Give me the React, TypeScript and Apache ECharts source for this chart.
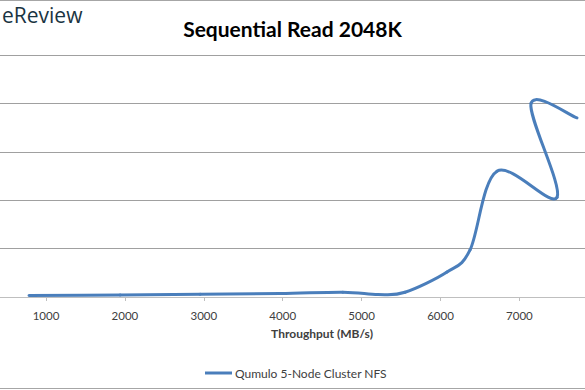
import React, { useEffect, useRef } from "react";
import * as echarts from "echarts";

const titleText = "Sequential Read 2048K";
const seriesName = "Qumulo 5-Node Cluster NFS";
const xAxisName = "Throughput (MB/s)";
const throughput = [785, 1938, 2952, 3966, 4764, 5208, 5550, 6082, 6374, 6716, 7477, 7147, 7730];
const latency = [1.45, 2.1, 2.8, 3.6, 5.0, 2.6, 4.9, 25.8, 48.6, 130, 103, 200, 185];

const LINE_COLOR = "#4a7ebb";

export default function App() {
  const ref = useRef<HTMLDivElement>(null);
  useEffect(() => {
    if (!ref.current) return;
    const chart = echarts.init(ref.current, undefined, { renderer: "svg" });
    const font = "Lato, 'Open Sans', sans-serif";
    const n = throughput.length;
    const renderItem = (params: any, api: any) => {
      const i = params.dataIndex;
      if (i === 0) return null;
      const pt = (k: number) => {
        const j = Math.max(0, Math.min(n - 1, k));
        return api.coord([throughput[j], latency[j]]);
      };
      const p0 = pt(i - 2);
      const p1 = pt(i - 1);
      const p2 = pt(i);
      const p3 = pt(i + 1);
      const t = 1 / 6;
      return {
        type: "bezierCurve",
        shape: {
          x1: p1[0],
          y1: p1[1],
          cpx1: p1[0] + (p2[0] - p0[0]) * t,
          cpy1: p1[1] + (p2[1] - p0[1]) * t,
          cpx2: p2[0] - (p3[0] - p1[0]) * t,
          cpy2: p2[1] - (p3[1] - p1[1]) * t,
          x2: p2[0],
          y2: p2[1],
        },
        style: { stroke: LINE_COLOR, lineWidth: 3, fill: null, lineCap: "round" },
      };
    };
    chart.setOption({
      animation: false,
      backgroundColor: "#ffffff",
      title: {
        text: titleText,
        left: "center",
        top: 13,
        textStyle: { fontFamily: font, fontWeight: "bold", fontSize: 21, color: "#000000" },
      },
      legend: {
        left: 200,
        top: 362,
        itemWidth: 27,
        itemHeight: 3,
        icon: "rect",
        textStyle: { fontFamily: font, fontSize: 12, color: "#404040", padding: [0, 0, 0, -2] },
        data: [{ name: seriesName, itemStyle: { color: LINE_COLOR } }],
      },
      grid: { left: 0, right: 0, top: 55, bottom: 93, containLabel: false },
      xAxis: {
        type: "value",
        min: 417,
        max: 7831,
        splitNumber: 7,
        axisLine: { show: true, lineStyle: { color: "#bfbfbf", width: 1 } },
        axisTick: { show: true, length: 4, lineStyle: { color: "#bfbfbf" } },
        axisLabel: {
          showMinLabel: false,
          showMaxLabel: false,
          margin: 12,
          fontFamily: font,
          fontSize: 11.5,
          color: "#404040",
          formatter: (v: number) => (v % 1000 === 0 ? String(v) : ""),
        },
        splitLine: { show: false },
      },
      yAxis: {
        type: "value",
        min: 0,
        max: 250,
        interval: 50,
        axisLine: { show: false },
        axisTick: { show: false },
        axisLabel: { show: false },
        splitLine: { show: true, lineStyle: { color: "#a0a0a0", width: 1 } },
      },
      graphic: [
        {
          type: "text",
          x: 322,
          y: 333,
          style: {
            text: xAxisName,
            fontFamily: font,
            fontWeight: "bold",
            fontSize: 12,
            fill: "#404040",
            textAlign: "center",
            textVerticalAlign: "middle",
          },
        },
        {
          type: "text",
          x: 2,
          y: 4,
          style: { text: "eReview", fontFamily: "'Open Sans', sans-serif", fontWeight: 500, fontSize: 21, fill: "#1a3442" },
        },
        { type: "line", shape: { x1: 0, y1: 0.5, x2: 585, y2: 0.5 }, style: { stroke: "#a6a6a6", lineWidth: 1 } },
        { type: "line", shape: { x1: 0, y1: 388.5, x2: 585, y2: 388.5 }, style: { stroke: "#a6a6a6", lineWidth: 1 } },
      ],
      series: [
        {
          name: seriesName,
          type: "custom",
          coordinateSystem: "cartesian2d",
          encode: { x: 0, y: 1 },
          itemStyle: { color: LINE_COLOR },
          data: throughput.map((x, i) => [x, latency[i]]),
          renderItem,
        },
      ],
    });
    return () => chart.dispose();
  }, []);
  return <div ref={ref} style={{ width: 585, height: 390, position: "fixed", left: 0, top: 0 }} />;
}
